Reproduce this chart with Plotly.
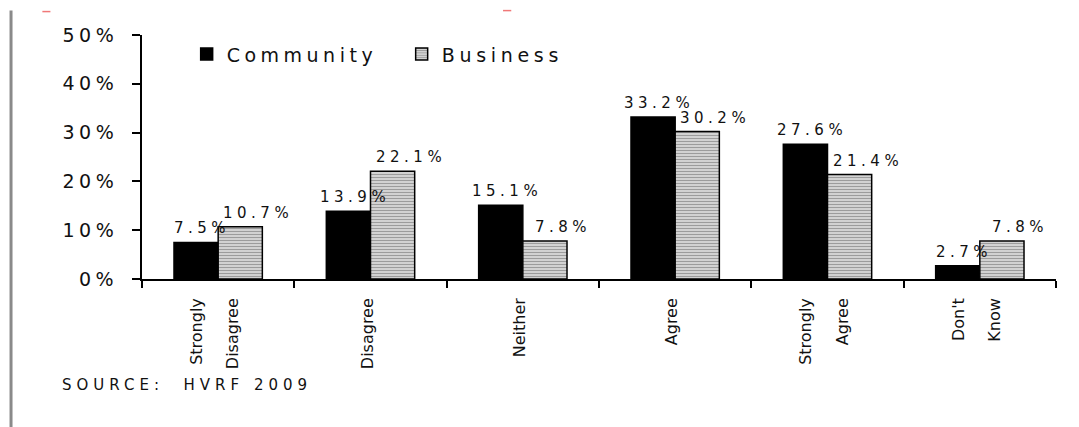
import plotly.graph_objects as go

# Survey responses (% of respondents)
categories = ["Strongly Disagree", "Disagree", "Neither", "Agree", "Strongly Agree", "Don't Know"]
category_lines = [["Strongly", "Disagree"], ["Disagree"], ["Neither"], ["Agree"],
                  ["Strongly", "Agree"], ["Don't", "Know"]]
community = [7.5, 13.9, 15.1, 33.2, 27.6, 2.7]
business = [10.7, 22.1, 7.8, 30.2, 21.4, 7.8]
y_ticks = [0, 10, 20, 30, 40, 50]

FONT = "DejaVu Sans, Liberation Sans, Arial, sans-serif"
INK = "#111111"


def spaced(text, px):
    """Widen text with letter spacing."""
    return f'<span style="letter-spacing:{px}px">{text}</span>'


def category_label(lines):
    # lines drawn at 16px inside a larger text box, which widens the line pitch
    return "<br>".join(f'<span style="font-size:16px">{s}</span>' for s in lines)


fig = go.Figure()
fig.add_trace(go.Bar(
    x=categories, y=community, name=spaced("Community", 4.5),
    marker=dict(color="#000000", line=dict(color="#000000", width=1.5)),
))
fig.add_trace(go.Bar(
    x=categories, y=business, name=spaced("Business", 4.7),
    marker=dict(
        color="#c9c9c9",
        line=dict(color="#000000", width=1.5),
        pattern=dict(shape="-", fgcolor="#9c9c9c", bgcolor="#d2d2d2",
                     size=3, solidity=0.35, fillmode="replace"),
    ),
))

# value labels above each bar
annotations = []
for series, shift in ((community, -16), (business, 40)):
    for cat, val in zip(categories, series):
        annotations.append(dict(
            x=cat, y=val, xref="x", yref="y", text=spaced(f"{val:.1f}%", 4.5),
            showarrow=False, xanchor="center", yanchor="bottom",
            xshift=shift, yshift=3,
            font=dict(family=FONT, size=15, color=INK),
        ))

annotations.append(dict(
    x=-0.0894, y=-0.435, xref="paper", yref="paper",
    text=spaced("SOURCE:  HVRF 2009", 5), showarrow=False,
    xanchor="left", yanchor="middle",
    font=dict(family=FONT, size=15, color=INK),
))

fig.update_layout(
    width=1079, height=427,
    margin=dict(l=142, r=23, t=35, b=148, autoexpand=False),
    paper_bgcolor="white", plot_bgcolor="white",
    font=dict(family=FONT, color=INK),
    barmode="group", bargap=0.42, bargroupgap=0,
    showlegend=True,
    legend=dict(
        orientation="h", xref="container", yref="container",
        x=0.173, y=0.873, xanchor="left", yanchor="middle",
        font=dict(family=FONT, size=19, color=INK),
        bgcolor="rgba(0,0,0,0)", entrywidth=170, entrywidthmode="pixels",
        itemclick=False, itemdoubleclick=False,
    ),
    annotations=annotations,
    shapes=[
        dict(type="line", xref="paper", yref="paper",
             x0=-0.1433, x1=-0.1433, y0=1.1006, y1=-0.61,
             line=dict(color="#8a8a8a", width=3)),
        dict(type="line", xref="paper", yref="paper",
             x0=-0.109, x1=-0.1002, y0=1.096, y1=1.096,
             line=dict(color="#f07878", width=1.5)),
        dict(type="line", xref="paper", yref="paper",
             x0=0.395, x1=0.404, y0=1.1, y1=1.1,
             line=dict(color="#f07878", width=1.5)),
    ],
)

fig.update_xaxes(
    type="category", tickmode="array", tickvals=categories,
    ticktext=[category_label(l) for l in category_lines],
    tickangle=-90, tickson="boundaries", ticks="outside", ticklen=7, tickwidth=2,
    tickcolor="#000000", showline=True, linecolor="#000000", linewidth=2,
    showgrid=False, ticklabelstandoff=6, ticklabelshift=-7, automargin=False,
    tickfont=dict(family=FONT, size=28, color=INK),
)
fig.update_yaxes(
    range=[0, 50], tickmode="array", tickvals=y_ticks,
    ticktext=[spaced(f"{v}%", 4.5) for v in y_ticks],
    ticks="outside", ticklen=8, tickwidth=2, tickcolor="#000000",
    showline=True, linecolor="#000000", linewidth=2, showgrid=False,
    zeroline=False, ticklabelstandoff=10, automargin=False,
    tickfont=dict(family=FONT, size=19, color=INK),
)

fig.write_html("out.html")
